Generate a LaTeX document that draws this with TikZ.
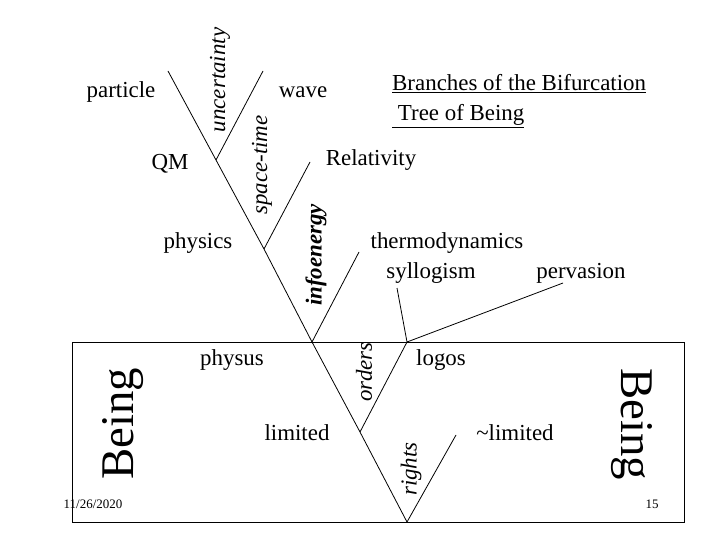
\documentclass[tikz,border=0pt]{standalone}
\usepackage{fontspec}
\setmainfont{Liberation Serif}
\usetikzlibrary{positioning}

\tikzset{
  lbl/.style={font=\fontsize{23}{27}\selectfont, inner sep=0pt},
  branchlbl/.style={font=\fontsize{23}{27}\selectfont\itshape, inner sep=0pt, rotate=90},
  bigword/.style={font=\fontsize{47}{50}\selectfont, inner sep=0pt},
  footer/.style={font=\fontsize{13}{15}\selectfont, inner sep=0pt},
  limb/.style={line width=0.8bp},
}

\begin{document}
\begin{tikzpicture}[x=1bp,y=-1bp]
        \useasboundingbox (0,0) rectangle (720,540);
        % the frame round the lower part
        \draw[limb] (72,342) rectangle (684,522);
        % junctions of the tree
        \coordinate (jqm) at (216,160);
        \coordinate (jphys) at (264,249);
        \coordinate (jroot) at (312,342);
        \coordinate (jlim) at (360,432);
        \coordinate (jbot) at (407,522);
        \coordinate (jlogos) at (407,342);
        % free ends
        \coordinate (epart) at (168,71);
        \coordinate (ewave) at (263,71);
        \coordinate (erel) at (310,162);
        \coordinate (einfo) at (359,252);
        \coordinate (esyl) at (397,288);
        \coordinate (eperv) at (563,283);
        \coordinate (erights) at (456,435);
        % trunk
        \draw[limb] (epart) -- (jqm) -- (jphys) -- (jroot) -- (jlim) -- (jbot);
        % right branches
        \draw[limb] (ewave) -- (jqm);
        \draw[limb] (erel) -- (jphys);
        \draw[limb] (einfo) -- (jroot);
        \draw[limb] (jlogos) -- (jlim);
        \draw[limb] (erights) -- (jbot);
        \draw[limb] (esyl) -- (jlogos) -- (eperv);
        % labels
        \node[lbl] (particle) at (121,92) {particle};
        \node[lbl] (wave) at (303,92) {wave};
        \node[lbl] (qm) at (170,164) {QM};
        \node[lbl] (relativity) at (371,160) {Relativity};
        \node[lbl] (physics) at (198,243) {physics};
        \node[lbl] (thermo) at (447,243) {thermodynamics};
        \node[lbl] (syllogism) at (431,273) {syllogism};
        \node[lbl] (pervasion) at (581,273) {pervasion};
        \node[lbl] (physus) at (232,360) {physus};
        \node[lbl] (limited) at (297,433) {limited};
        \node[lbl] (logos) at (441,360) {logos};
        \node[lbl] (notlimited) at (515,433) {\textasciitilde limited};
        \node[branchlbl] (uncertainty) at (220,80) {uncertainty};
        \node[branchlbl] (spacetime) at (262,165) {space-time};
        \node[branchlbl, font=\fontsize{23}{27}\selectfont\bfseries\itshape] (infoenergy) at (316,255) {infoenergy};
        \node[branchlbl] (orders) at (364,372) {orders};
        \node[branchlbl] (rights) at (411,469) {rights};
        \node[lbl, font=\fontsize{23}{30}\selectfont, align=left, anchor=west] (title) at (392,101)
          {\underline{Branches of the Bifurcation}\\\underline{\ Tree of Being}};
        \node[bigword, rotate=90] (beingl) at (123,424) {Being};
        \node[bigword, rotate=-90] (beingr) at (632,424) {Being};
        \node[footer] (date) at (93,504) {11/26/2020};
        \node[footer] (pageno) at (652,504) {15};
      \end{tikzpicture}
\end{document}
